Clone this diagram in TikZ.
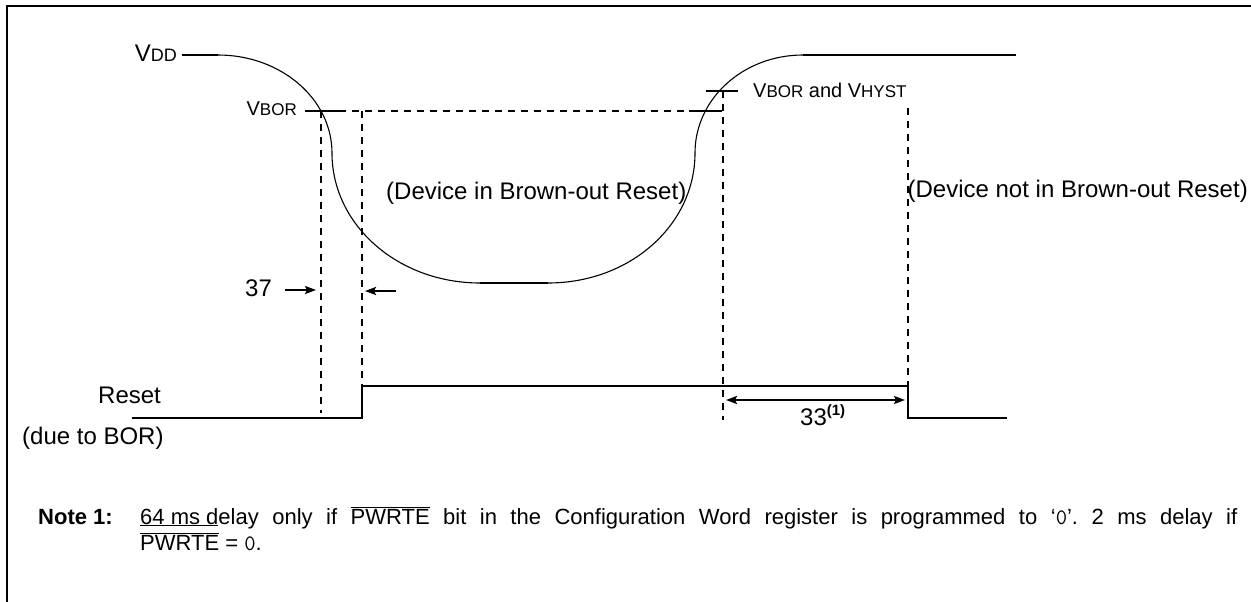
\documentclass[tikz,border=0pt]{standalone}
\usepackage{fontspec}
\setmainfont{Liberation Sans}
\usetikzlibrary{arrows.meta}
\newcommand\fsz[1]{\fontsize{#1}{#1}\selectfont}
\frenchspacing
\begin{document}
\begin{tikzpicture}[x=1pt,y=-1pt,
  frame/.style={line width=2pt},
  sig/.style={line width=2.4pt},
  curve/.style={line width=1.1pt},
  dsh/.style={line width=1.8pt, dash pattern=on 7pt off 6pt},
  tickline/.style={line width=2pt},
  arr/.style={line width=2pt,-{Stealth[length=11pt,width=8pt,inset=2pt]}},
  darr/.style={line width=2pt,{Stealth[length=11pt,width=8pt,inset=2pt]}-{Stealth[length=11pt,width=8pt,inset=2pt]}},
  lbl/.style={inner sep=0pt, font=\fsz{24}},
  smalllbl/.style={inner sep=0pt, font=\fsz{20}},
  notetext/.style={inner sep=0pt, font=\fsz{22}},
]
\useasboundingbox (0,0) rectangle (1251,602);
% frame
\draw[frame] (7,602) -- (7,6) -- (1251,6);
% labels
\node[lbl, anchor=base east] (vdd) at (177,62) {V{\fsz{18}DD}};
\node[smalllbl, anchor=base east] (vbor) at (297,115) {V{\fsz{17}BOR}};
\node[smalllbl, anchor=base west] (vhyst) at (753,97) {V{\fsz{17}BOR} and V{\fsz{17}HYST}};
\node[lbl, anchor=base west] (inbor) at (386,199) {(Device in Brown-out Reset)};
\node[lbl, anchor=base east] (notbor) at (1248,197) {(Device not in Brown-out Reset)};
\node[lbl, anchor=base west] (t37) at (245,296) {37};
\node[lbl, anchor=base west] (reset) at (98,403) {Reset};
\node[lbl, anchor=base west] (due) at (22,444) {(due to BOR)};
\node[lbl, anchor=base west] (t33) at (800,425) {33$^{\mbox{\bfseries\fsz{15}(1)}}$};
% VDD waveform
\draw[sig] (182,55) -- (218,55);
\draw[curve] (218,55) .. controls (281,55) and (332,99) .. (332,153)
  .. controls (332,225) and (398,283) .. (480,283);
\draw[sig] (480,283) -- (548,283);
\draw[curve] (548,283) .. controls (630,283) and (695,225) .. (695,153)
  .. controls (695,99) and (743,55) .. (803,55);
\draw[sig] (803,55) -- (1016,55);
% thresholds
\draw[tickline] (305,111) -- (339,111);
\draw[dsh] (339,111) -- (689,111);
\draw[tickline] (689,111) -- (722,111);
\draw[tickline] (706,91) -- (738,91);
% vertical dashed
\draw[dsh] (321,111) -- (321,413);
\draw[dsh] (362,111) -- (362,422);
\draw[dsh] (723,91) -- (723,420);
\draw[dsh] (908,108) -- (908,386);
% reset waveform
\draw[sig] (132,418) -- (362,418) -- (362,386) -- (908,386) -- (908,418) -- (1007,418);
% arrows
\draw[arr] (285,290) -- (316,290);
\draw[arr] (396,291) -- (365,291);
\draw[darr] (726,400) -- (905,400);
% note
\node[notetext, anchor=base west, font=\fsz{22}\bfseries] (note) at (38,524) {Note 1:};
\node[notetext, anchor=base west] (line1) at (140,524) {\makebox[1097pt][s]{\underline{64 ms d}elay only if $\overline{\hbox{PWRTE}}$ bit in the Configuration Word register is programmed to ‘{\ttfamily 0}’. 2 ms delay if}};
\node[notetext, anchor=base west] (line2) at (140,550) {$\overline{\hbox{PWRTE}}$ = {\ttfamily 0}.};
\end{tikzpicture}
\end{document}
